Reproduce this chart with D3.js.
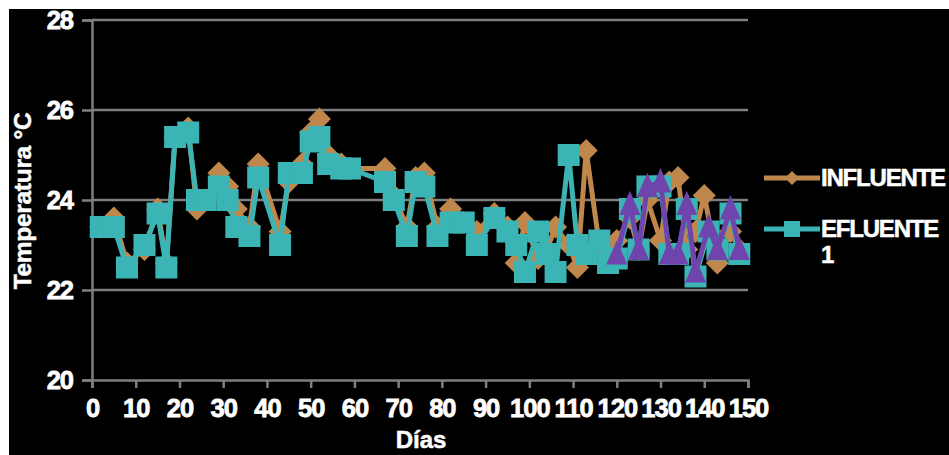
<!DOCTYPE html>
<html>
<head>
<meta charset="utf-8">
<script src="https://cdn.jsdelivr.net/npm/d3@7"></script>
<style>
  html, body { margin: 0; padding: 0; background: #fff; }
  svg { display: block; font-family: 'Liberation Sans', Arial, sans-serif; }
</style>
</head>
<body>
<div id="chart"></div>
<script>
// days and temperatures
const influenteDays = [2, 5, 8, 12, 15, 17, 19, 22, 24, 26, 29, 31, 33, 36, 38, 43, 45, 48, 50, 52, 54, 57, 59, 67, 69, 72, 74, 76, 79, 82, 85, 88, 92, 95, 97, 99, 102, 104, 106, 109, 111, 113, 116, 118, 120, 123, 125, 127, 130, 132, 134, 136, 138, 140, 143, 146, 148]
const influenteTemp = [23.4, 23.6, 22.6, 22.9, 23.8, 22.6, 25.4, 25.6, 23.8, 24.0, 24.6, 24.3, 23.8, 23.4, 24.8, 23.3, 24.4, 24.8, 25.5, 25.8, 25.0, 24.8, 24.7, 24.7, 24.1, 23.4, 24.5, 24.6, 23.4, 23.8, 23.5, 23.3, 23.7, 23.4, 22.6, 23.5, 22.7, 22.9, 23.4, 23.0, 22.5, 25.1, 23.0, 22.8, 23.1, 23.6, 22.9, 24.0, 23.1, 24.4, 24.5, 22.9, 23.3, 24.1, 22.6, 23.3, 22.9]

const efluente1Days = [2, 5, 8, 12, 15, 17, 19, 22, 24, 26, 29, 31, 33, 36, 38, 43, 45, 48, 50, 52, 54, 57, 59, 67, 69, 72, 74, 76, 79, 82, 85, 88, 92, 95, 97, 99, 102, 104, 106, 109, 111, 113, 116, 118, 120, 123, 125, 127, 130, 132, 134, 136, 138, 141, 143, 146, 148]
const efluente1Temp = [23.4, 23.4, 22.5, 23.0, 23.7, 22.5, 25.4, 25.5, 24.0, 24.0, 24.3, 24.0, 23.4, 23.2, 24.5, 23.0, 24.6, 24.6, 25.3, 25.4, 24.8, 24.7, 24.7, 24.4, 24.0, 23.2, 24.4, 24.3, 23.2, 23.5, 23.5, 23.0, 23.6, 23.3, 23.0, 22.4, 23.3, 22.8, 22.4, 25.0, 23.0, 22.8, 23.1, 22.6, 22.7, 23.8, 22.9, 24.3, 24.3, 22.8, 22.8, 23.8, 22.3, 23.3, 22.9, 23.7, 22.8]

const efluente2Days = [120, 123, 125, 127, 130, 132, 134, 136, 138, 141, 143, 146, 148]
const efluente2Temp = [22.8, 23.9, 22.9, 24.3, 24.4, 22.8, 22.8, 23.9, 22.4, 23.4, 22.9, 23.8, 22.9]

const xTicks = d3.range(0, 151, 10)
const yTicks = [20, 22, 24, 26, 28]

const W = 949, H = 455
const svg = d3.select('#chart').append('svg')
  .attr('width', W)
  .attr('height', H)

// white margin on top/left, black panel for the rest
svg.append('rect').attr('width', W).attr('height', H).attr('fill', '#fff')
svg.append('rect').attr('x', 9).attr('y', 9).attr('width', W - 9).attr('height', H - 9).attr('fill', '#000')

const x = d3.scaleLinear().domain([0, 150]).range([92, 748])
const y = d3.scaleLinear().domain([20, 28]).range([380, 20])

const grey = '#7f7f7f'

// gridlines
svg.append('g').selectAll('line').data(yTicks.filter(d => d > 20))
  .enter().append('line')
  .attr('x1', x(0)).attr('x2', x(150))
  .attr('y1', d => y(d)).attr('y2', d => y(d))
  .attr('stroke', grey).attr('stroke-width', 2.5)

// axes
const xAxis = svg.append('g')
  .attr('transform', `translate(0, ${y(20)})`)
  .call(d3.axisBottom(x).tickValues(xTicks).tickSize(8).tickFormat(d3.format('d')))
const yAxis = svg.append('g')
  .attr('transform', `translate(${x(0)}, 0)`)
  .call(d3.axisLeft(y).tickValues(yTicks).tickSize(10).tickFormat(d3.format('d')))

for (const ax of [xAxis, yAxis]) {
  ax.select('.domain').attr('stroke', grey).attr('stroke-width', 2.5)
  ax.selectAll('.tick line').attr('stroke', grey).attr('stroke-width', 2.5)
  ax.selectAll('.tick text')
    .attr('fill', '#fff')
    .attr('stroke', '#fff').attr('stroke-width', 0.8)
    .style('font-family', "'Liberation Sans', Arial, sans-serif")
    .style('font-weight', 'bold')
    .style('font-size', '25.5px')
    .style('letter-spacing', '-1px')
}
xAxis.selectAll('.tick text').attr('dy', 0).attr('y', 37)
yAxis.selectAll('.tick text').attr('x', -19).attr('dy', '0.35em')

// axis titles
svg.append('text')
  .attr('x', 421).attr('y', 448)
  .attr('text-anchor', 'middle')
  .attr('fill', '#fff').attr('stroke', '#fff').attr('stroke-width', 0.5)
  .style('font-weight', 'bold').style('font-size', '24px')
  .text('Días')
svg.append('text')
  .attr('transform', 'translate(31, 201) rotate(-90)')
  .attr('text-anchor', 'middle')
  .attr('fill', '#fff').attr('stroke', '#fff').attr('stroke-width', 0.5)
  .style('font-weight', 'bold').style('font-size', '24.5px')
  .style('letter-spacing', '-0.3px')
  .text('Temperatura °C')

// marker shapes
const diamond = (r) => `M0,${-r}L${r},0L0,${r}L${-r},0Z`
const square = (r) => `M${-r},${-r}H${r}V${r}H${-r}Z`
const triangle = (r) => `M0,${-r * 1.3}L${r},${r}L${-r},${r}Z`

const series = [
  {name: 'INFLUENTE', days: influenteDays, temps: influenteTemp, color: '#c0874c', shape: diamond, r: 11.5},
  {name: 'EFLUENTE 1', days: efluente1Days, temps: efluente1Temp, color: '#3bb4b6', shape: square, r: 11},
  {name: 'EFLUENTE 2', days: efluente2Days, temps: efluente2Temp, color: '#6f45ad', shape: triangle, r: 10.5}
]

const line = d3.line()
  .x(d => x(d[0]))
  .y(d => y(d[1]))

for (const s of series) {
  const pts = s.days.map((d, i) => [d, s.temps[i]])
  const g = svg.append('g')
  g.append('path')
    .datum(pts)
    .attr('d', line)
    .attr('fill', 'none')
    .attr('stroke', s.color)
    .attr('stroke-width', 5)
    .attr('stroke-linejoin', 'round')
  g.selectAll('.mk').data(pts)
    .enter().append('path')
    .attr('transform', d => `translate(${x(d[0])}, ${y(d[1])})`)
    .attr('d', s.shape(s.r))
    .attr('fill', s.color)
}

// legend
const legend = [
  {label: ['INFLUENTE'], color: '#c0874c', shape: diamond(7), y: 178},
  {label: ['EFLUENTE', '1'], color: '#3bb4b6', shape: square(8), y: 229}
]
const lg = svg.append('g').selectAll('g').data(legend).enter().append('g')
  .attr('transform', d => `translate(0, ${d.y})`)
lg.append('line')
  .attr('x1', 764).attr('x2', 820)
  .attr('stroke', d => d.color).attr('stroke-width', 5)
lg.append('path')
  .attr('transform', 'translate(792, 0)')
  .attr('d', d => d.shape)
  .attr('fill', d => d.color)
lg.append('text')
  .attr('x', 821).attr('y', 8)
  .attr('fill', '#fff').attr('stroke', '#fff').attr('stroke-width', 0.5)
  .style('font-weight', 'bold').style('font-size', '24px')
  .style('letter-spacing', '-1.2px')
  .selectAll('tspan').data(d => d.label)
  .enter().append('tspan')
  .attr('x', 821)
  .attr('dy', (d, i) => i === 0 ? 0 : 26)
  .text(d => d)
</script>
</body>
</html>
